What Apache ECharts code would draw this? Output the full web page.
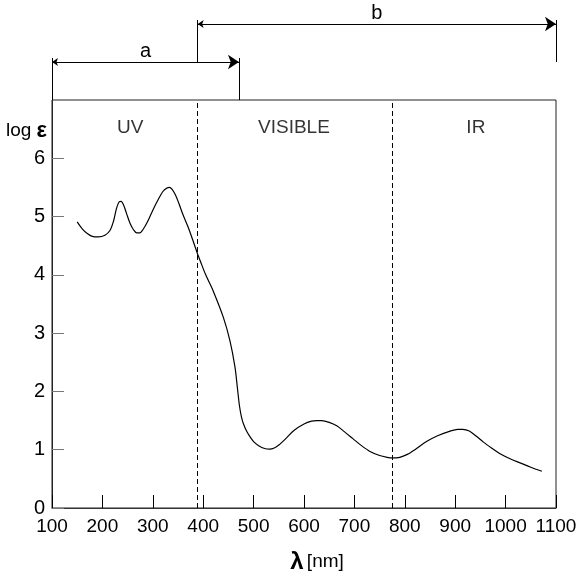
<!DOCTYPE html>
<html>
<head>
<meta charset="utf-8">
<script src="https://cdn.jsdelivr.net/npm/echarts@6/dist/echarts.min.js"></script>
<style>
html,body{margin:0;padding:0;background:#fff;}
#c{width:582px;height:579px;}
</style>
</head>
<body>
<div id="c"></div>
<script>
// Data
const wavelengths = [150,160,170,180,192,205,215,222,228,233,237,242,248,255,262,268,274,280,290,300,310,320,328,333,338,345,352,360,370,380,388,395,405,420,440,453,463,468,472,476,480,486,493,500,510,522,532,541,550,565,580,600,615,625,635,650,665,680,697,714,731,750,765,775,790,805,820,843,865,890,905,915,928,942,956,972,989,1010,1030,1050,1072];
const logEps = [4.91,4.79,4.71,4.66,4.65,4.68,4.76,4.92,5.14,5.25,5.26,5.20,5.05,4.88,4.77,4.72,4.72,4.77,4.92,5.11,5.28,5.43,5.49,5.50,5.47,5.37,5.22,5.03,4.82,4.58,4.38,4.22,4.00,3.72,3.27,2.87,2.42,2.05,1.75,1.56,1.44,1.32,1.22,1.14,1.07,1.02,1.01,1.03,1.08,1.20,1.33,1.44,1.49,1.50,1.50,1.47,1.41,1.31,1.19,1.07,0.97,0.90,0.87,0.86,0.87,0.92,1.00,1.14,1.24,1.32,1.35,1.35,1.32,1.23,1.13,1.03,0.93,0.84,0.77,0.70,0.63];
const xTicks = [100,200,300,400,500,600,700,800,900,1000,1100];
const yTicks = [0,1,2,3,4,5,6];
const boundaries = [389, 775];           // UV/VISIBLE and VISIBLE/IR limits (nm)
const regionNames = ['UV','VISIBLE','IR'];
const regionX = [255, 580, 941];
const regionY = 6.53;
// dimension ranges: [start, end]
const rangeA = [100, 471];
const rangeB = [389, 1100];
const rangeNames = ['a','b'];
const levelA = 62, levelB = 24;          // heights in the annotation strip (0 at top)
const extA = [58, 100], extB = [20, 62]; // extension line spans

const FONT = "'Liberation Sans',Arial,sans-serif";

const chart = echarts.init(document.getElementById('c'), null, {renderer:'canvas'});
const option = {
  backgroundColor:'#fff',
  animation:false,
  grid:[
    {left:52,right:26,top:100,bottom:62,show:true,borderColor:'#222',borderWidth:1},
    {left:52,right:26,top:0,height:100,show:false}
  ],
  xAxis:[
    {type:'value',gridIndex:0,min:xTicks[0],max:xTicks[xTicks.length-1],interval:100,
     axisLine:{show:true,lineStyle:{color:'#333',width:1}},
     axisTick:{show:true,inside:true,length:13,lineStyle:{color:'#000'}},
     axisLabel:{color:'#000',fontFamily:FONT,fontSize:19,margin:9,showMinLabel:true,showMaxLabel:true,hideOverlap:false,
       formatter:v=>String(v)},
     splitLine:{show:false},
     name:'{l|λ} {n|[nm]}',nameLocation:'middle',nameGap:42,
     nameTextStyle:{padding:[0,0,0,26],rich:{l:{fontSize:24,fontWeight:'bold',fontFamily:FONT,color:'#000'},n:{fontSize:19,fontFamily:FONT,color:'#000'}}}
    },
    {type:'value',gridIndex:1,min:xTicks[0],max:xTicks[xTicks.length-1],show:false}
  ],
  yAxis:[
    {type:'value',gridIndex:0,min:0,max:7,interval:1,
     axisLine:{show:true,lineStyle:{color:'#222',width:1}},
     axisTick:{show:true,inside:true,length:12,lineStyle:{color:'#777'}},
     axisLabel:{color:'#000',fontFamily:FONT,fontSize:20,margin:7,showMaxLabel:false,
       formatter:v=> yTicks.indexOf(v)>=0 ? String(v) : ''},
     splitLine:{show:false},
     name:'{g|log }{e|ε}',nameLocation:'end',nameGap:-31,
     nameTextStyle:{align:'right',verticalAlign:'middle',padding:[0,5,0,0],
       rich:{g:{fontSize:19,fontFamily:FONT,color:'#000'},e:{fontSize:22,fontWeight:'bold',fontFamily:FONT,color:'#000'}}}
    },
    {type:'value',gridIndex:1,min:0,max:100,inverse:true,show:false}
  ],
  series:[
    {type:'line',xAxisIndex:0,yAxisIndex:0,
     data:wavelengths.map((w,i)=>[w,logEps[i]]),
     smooth:0.3,showSymbol:false,symbol:'none',
     lineStyle:{color:'#000',width:1.2},
     markLine:{silent:true,symbol:['none','none'],label:{show:false},
       lineStyle:{color:'#000',width:1,type:[5,3]},
       data:boundaries.map(b=>({xAxis:b}))}
    },
    {type:'scatter',xAxisIndex:0,yAxisIndex:0,symbolSize:0,
     data:regionNames.map((n,i)=>[regionX[i],regionY,n]),
     label:{show:true,position:'inside',formatter:p=>p.value[2],color:'#000',fontFamily:FONT,fontSize:19}
    },
    {type:'lines',coordinateSystem:'cartesian2d',xAxisIndex:1,yAxisIndex:1,
     symbol:['arrow','arrow'],symbolSize:[6,11],
     lineStyle:{color:'#000',width:1,opacity:1},
     label:{show:true,position:'insideMiddleTop',distance:1,color:'#000',fontFamily:FONT,fontSize:20,formatter:p=>p.name},
     data:[
       {name:rangeNames[0],coords:[[rangeA[0],levelA],[rangeA[1],levelA]]},
       {name:rangeNames[1],coords:[[rangeB[0],levelB],[rangeB[1],levelB]]}
     ]
    },
    {type:'lines',coordinateSystem:'cartesian2d',xAxisIndex:1,yAxisIndex:1,
     symbol:['none','none'],
     lineStyle:{color:'#000',width:1,opacity:1},
     data:[
       {coords:[[rangeA[0],extA[0]],[rangeA[0],extA[1]]]},
       {coords:[[rangeA[1],extA[0]],[rangeA[1],extA[1]]]},
       {coords:[[rangeB[0],extB[0]],[rangeB[0],extB[1]]]},
       {coords:[[rangeB[1],extB[0]],[rangeB[1],extB[1]]]}
     ]
    }
  ]
};
chart.setOption(option);
</script>
</body>
</html>
